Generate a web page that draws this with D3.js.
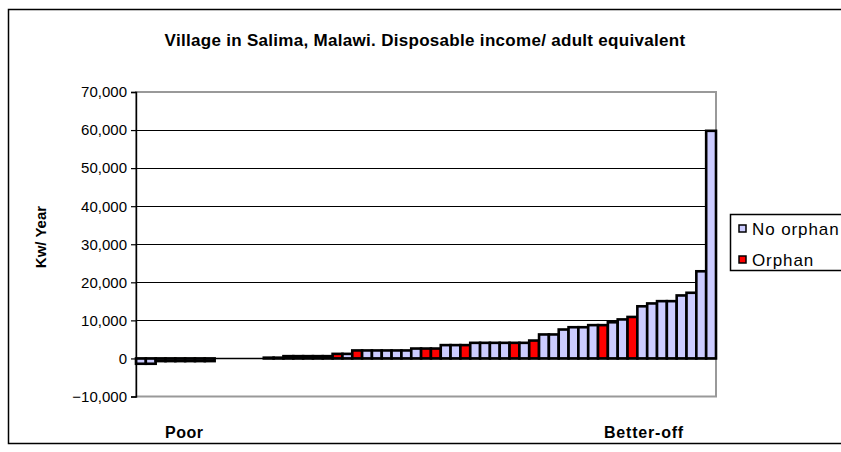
<!DOCTYPE html>
<html>
<head>
<meta charset="utf-8">
<script src="https://cdn.jsdelivr.net/npm/d3@7"></script>
<style>
  html, body { margin: 0; padding: 0; background: #fff; }
  svg { display: block; font-family: "Liberation Sans", Arial, sans-serif; }
</style>
</head>
<body>
<svg id="chart" width="841" height="452"></svg>
<script>
// ---- data (households sorted from poorest to better-off) ----
const households = [1,2,3,4,5,6,7,8,9,10,11,12,13,14,15,16,17,18,19,20,
  21,22,23,24,25,26,27,28,29,30,31,32,33,34,35,36,37,38,39,40,
  41,42,43,44,45,46,47,48,49,50,51,52,53,54,55,56,57,58,59];
const incomes = [-1400,-1400,-700,-700,-700,-700,-700,-700,0,0,
  0,0,0,200,200,600,600,600,600,600,
  1200,1200,2100,2100,2100,2100,2100,2100,2600,2600,
  2600,3500,3500,3500,4100,4100,4100,4100,4100,4100,
  4700,6300,6300,7600,8200,8200,8750,8750,9500,10250,
  10900,13700,14450,15050,15050,16550,17250,22900,59800];
const orphanFlags = [0,0,0,0,0,0,0,0,0,0,
  0,0,0,0,0,0,0,0,0,0,
  1,0,1,0,0,0,0,0,0,1,
  1,0,0,1,0,0,0,0,1,0,
  1,0,0,0,0,0,0,1,0,0,
  1,0,0,0,0,0,0,0,0];
const seriesNames = ["No orphan", "Orphan"];
const seriesColors = ["#ccccff", "#ff0000"];
const yTicks = [-10000,0,10000,20000,30000,40000,50000,60000,70000];
const titleText = "Village in Salima, Malawi. Disposable income/ adult equivalent";
const yTitle = "Kw/ Year";
const leftLabel = "Poor";
const rightLabel = "Better-off";

const svg = d3.select("#chart");
const plot = {left: 136, right: 716, top: 92, bottom: 396.5};

// outer chart border
svg.append("rect").attr("x", 8.5).attr("y", 9.5).attr("width", 850).attr("height", 434)
  .attr("fill", "#fff").attr("stroke", "#000").attr("stroke-width", 1.5);

const x = d3.scaleBand().domain(households).range([plot.left, plot.right]).padding(0);
const y = d3.scaleLinear().domain([-10000, 70000]).range([plot.bottom, plot.top]);

// gridlines
svg.append("g").selectAll("line").data(yTicks.filter(d => d > 0 && d < 70000)).join("line")
  .attr("x1", plot.left).attr("x2", plot.right)
  .attr("y1", d => Math.round(y(d)) + 0.5).attr("y2", d => Math.round(y(d)) + 0.5)
  .attr("stroke", "#000").attr("stroke-width", 1.2);

// plot area border (gray)
svg.append("rect").attr("x", plot.left).attr("y", plot.top)
  .attr("width", plot.right - plot.left).attr("height", plot.bottom - plot.top)
  .attr("fill", "none").attr("stroke", "#999").attr("stroke-width", 2);

// bars
svg.append("g").selectAll("rect").data(incomes).join("rect")
  .attr("x", (d, i) => x(households[i]))
  .attr("width", x.bandwidth())
  .attr("y", d => y(Math.max(0, d)))
  .attr("height", d => Math.abs(y(d) - y(0)))
  .attr("fill", (d, i) => seriesColors[orphanFlags[i]])
  .attr("stroke", "#000").attr("stroke-width", 2.6);

// zero (category) axis line
svg.append("line").attr("x1", plot.left).attr("x2", plot.right)
  .attr("y1", y(0)).attr("y2", y(0)).attr("stroke", "#000").attr("stroke-width", 1.4);

// y axis
const yAxis = d3.axisLeft(y).tickValues(yTicks).tickSize(5).tickPadding(4)
  .tickFormat(d3.format(","));
const ya = svg.append("g").attr("transform", `translate(${plot.left},0)`).call(yAxis);
ya.select(".domain").attr("stroke", "#000").attr("stroke-width", 1.4);
ya.selectAll(".tick line").attr("stroke", "#000").attr("stroke-width", 1.2);
ya.selectAll(".tick text").attr("font-size", 15).attr("fill", "#000")
  .attr("font-family", "Liberation Sans, Arial, sans-serif");

// title
svg.append("text").attr("x", 425).attr("y", 46).attr("text-anchor", "middle")
  .attr("font-size", 17).attr("font-weight", "bold").attr("letter-spacing", 0.3).text(titleText);

// y title
svg.append("text").attr("transform", "translate(46,237) rotate(-90)")
  .attr("text-anchor", "middle").attr("font-size", 15).attr("font-weight", "bold").text(yTitle);

// category end labels
svg.append("text").attr("x", 165).attr("y", 438).attr("font-size", 16)
  .attr("font-weight", "bold").attr("letter-spacing", 0.5).text(leftLabel);
svg.append("text").attr("x", 604).attr("y", 438).attr("font-size", 16)
  .attr("font-weight", "bold").attr("letter-spacing", 0.8).text(rightLabel);

// legend
const lg = svg.append("g");
lg.append("rect").attr("x", 730.5).attr("y", 214.5).attr("width", 130).attr("height", 56)
  .attr("fill", "#fff").attr("stroke", "#000").attr("stroke-width", 1.5);
seriesNames.forEach((name, i) => {
  const cy = 229 + i * 31;
  lg.append("rect").attr("x", 739).attr("y", cy - 4).attr("width", 7).attr("height", 7)
    .attr("fill", seriesColors[i]).attr("stroke", "#000").attr("stroke-width", 1.5);
  lg.append("text").attr("x", 752).attr("y", cy + 6).attr("font-size", 17)
    .attr("letter-spacing", 0.9).text(name);
});
</script>
</body>
</html>
